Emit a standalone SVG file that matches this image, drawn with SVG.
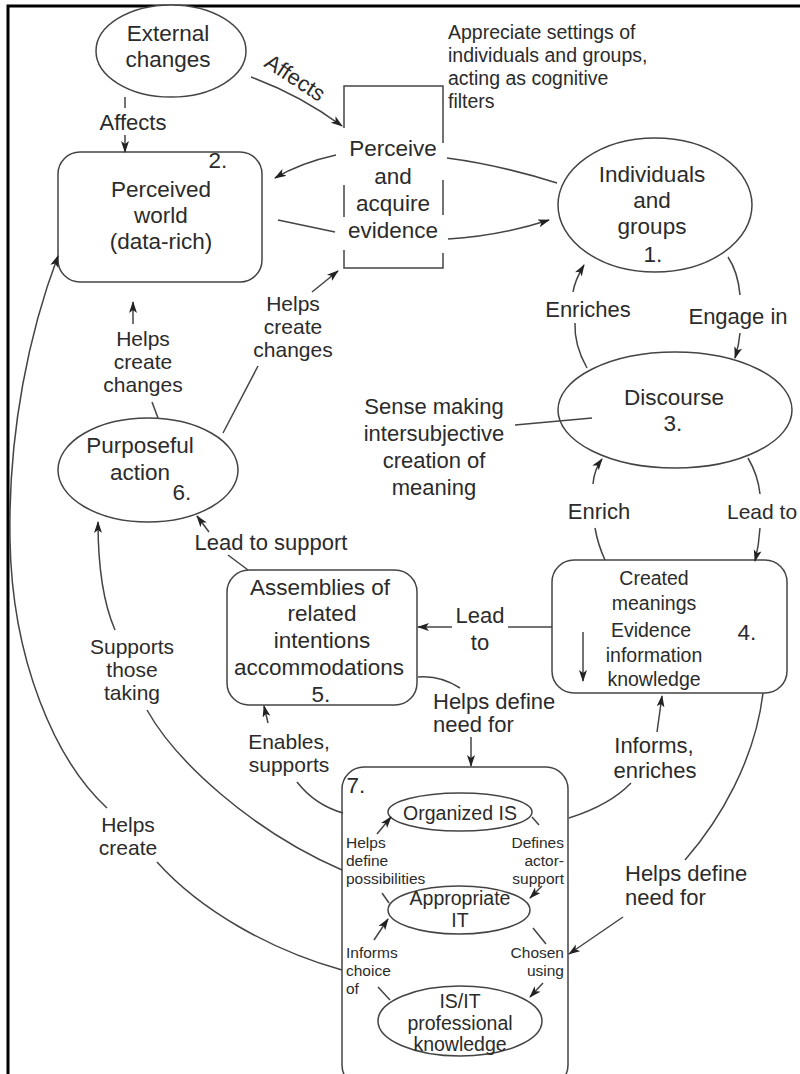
<svg xmlns="http://www.w3.org/2000/svg" width="800" height="1074" viewBox="0 0 800 1074">
<defs>
<marker id="ah" markerWidth="12" markerHeight="10" refX="11" refY="4" orient="auto" markerUnits="userSpaceOnUse">
<path d="M0,0 L12,4 L0,8 L3,4 Z" fill="#222"/>
</marker>
<style>
.t{font-family:"Liberation Sans",Arial,sans-serif;font-size:22.5px;fill:#2b2b2b;text-anchor:middle}
.l{font-family:"Liberation Sans",Arial,sans-serif;font-size:22px;fill:#2b2b2b;text-anchor:middle}
.m{font-family:"Liberation Sans",Arial,sans-serif;font-size:21px;fill:#2b2b2b;text-anchor:middle}
.s{font-family:"Liberation Sans",Arial,sans-serif;font-size:19.5px;fill:#2b2b2b;text-anchor:middle}
.x{font-family:"Liberation Sans",Arial,sans-serif;font-size:15.5px;fill:#2b2b2b}
.n{fill:#fff;stroke:#444;stroke-width:1.5}
.c{fill:none;stroke:#444;stroke-width:1.5}
.a{fill:none;stroke:#444;stroke-width:1.5;marker-end:url(#ah)}
</style>
</defs>
<rect width="800" height="1074" fill="#fff"/>
<path d="M8,1074 V6 H800" fill="none" stroke="#000" stroke-width="3"/>

<g id="external-changes">
<ellipse class="n" cx="171" cy="51" rx="75" ry="46"/>
<text class="t" x="168" y="41">External</text>
<text class="t" x="168" y="67">changes</text>
</g>

<g id="perceived-world">
<rect class="n" x="58" y="152" width="204" height="130" rx="22"/>
<text class="t" x="218" y="168">2.</text>
<text class="t" x="161" y="197">Perceived</text>
<text class="t" x="161" y="223">world</text>
<text class="t" x="161" y="249">(data-rich)</text>
</g>

<g id="perceive-acquire">
<path class="c" d="M344,128 V86 H443 V143 M443,180 V215 M443,253 V268 H344 V250 M344,217 V185"/>
<text class="t" x="393" y="156">Perceive</text>
<text class="t" x="393" y="184">and</text>
<text class="t" x="393" y="211">acquire</text>
<text class="t" x="393" y="238">evidence</text>
</g>

<g id="individuals-groups">
<ellipse class="n" cx="655" cy="205" rx="97" ry="67"/>
<text class="t" x="652" y="182">Individuals</text>
<text class="t" x="652" y="208">and</text>
<text class="t" x="652" y="234">groups</text>
<text class="t" x="653" y="262">1.</text>
</g>

<g id="discourse">
<ellipse class="n" cx="675" cy="410" rx="117" ry="58"/>
<text class="t" x="674" y="405">Discourse</text>
<text class="t" x="673" y="431">3.</text>
</g>

<g id="purposeful-action">
<ellipse class="n" cx="148" cy="470" rx="90" ry="52"/>
<text class="t" x="140" y="453">Purposeful</text>
<text class="t" x="140" y="480">action</text>
<text class="t" x="182" y="500">6.</text>
</g>

<g id="created-meanings">
<rect class="n" x="552" y="560" width="235" height="133" rx="22"/>
<text class="s" x="654" y="585">Created</text>
<text class="s" x="654" y="610">meanings</text>
<text class="s" x="651" y="637">Evidence</text>
<text class="s" x="654" y="662">information</text>
<text class="s" x="654" y="686">knowledge</text>
<text class="t" x="747" y="640">4.</text>
</g>

<g id="assemblies">
<rect class="n" x="227" y="570" width="190" height="135" rx="22"/>
<text class="t" x="320" y="595">Assemblies of</text>
<text class="t" x="322" y="621">related</text>
<text class="t" x="322" y="648">intentions</text>
<text class="t" x="319" y="675">accommodations</text>
<text class="t" x="321" y="702">5.</text>
</g>

<g id="is-it-box">
<rect class="n" x="342" y="767" width="226" height="320" rx="22"/>
<text class="t" x="356" y="793">7.</text>
</g>

<g id="organized-is">
<ellipse class="n" cx="460" cy="812" rx="72" ry="19"/>
<text class="s" x="460" y="820">Organized IS</text>
</g>

<g id="appropriate-it">
<ellipse class="n" cx="459" cy="910" rx="71" ry="24"/>
<text class="s" x="460" y="905">Appropriate</text>
<text class="s" x="460" y="927">IT</text>
</g>

<g id="is-it-knowledge">
<ellipse class="n" cx="460" cy="1021" rx="82" ry="35"/>
<text class="s" x="460" y="1008">IS/IT</text>
<text class="s" x="460" y="1030">professional</text>
<text class="s" x="460" y="1051">knowledge</text>
</g>

<g id="connectors">
<path class="c" d="M125,97 L125,108"/>
<path class="a" d="M125,135 L125,152"/>
<path class="a" d="M251,77 Q300,95 342,126"/>
<path class="c" d="M557,183 Q500,165 447,158"/>
<path class="a" d="M336,155 Q300,163 275,178"/>
<path class="c" d="M278,220 L335,232"/>
<path class="a" d="M448,239 Q500,236 549,220"/>
<path class="c" d="M587,368 Q574,345 575,323"/>
<path class="a" d="M573,292 Q575,280 584,265"/>
<path class="c" d="M728,257 Q738,272 740,295"/>
<path class="a" d="M740,333 Q739,345 735,358"/>
<path class="c" d="M515,425 L592,418"/>
<path class="c" d="M605,560 Q598,545 595,528"/>
<path class="a" d="M593,484 Q594,470 602,459"/>
<path class="c" d="M748,458 Q758,475 760,494"/>
<path class="a" d="M760,528 Q759,545 755,561"/>
<path class="c" d="M552,627 L508,627"/>
<path class="a" d="M452,627 L418,627"/>
<path class="c" d="M248,570 L228,555"/>
<path class="a" d="M209,532 L197,516"/>
<path class="c" d="M158,418 L152,402"/>
<path class="a" d="M133,324 L133,302"/>
<path class="c" d="M223,433 L258,366"/>
<path class="a" d="M312,292 L338,271"/>
<path class="c" d="M342,870 C250,830 175,760 147,710"/>
<path class="a" d="M115,630 C102,600 98,560 98,522"/>
<path class="c" d="M342,970 C270,950 200,910 157,862"/>
<path class="a" d="M107,808 C55,760 12,660 10,540 C8,430 30,330 58,256"/>
<path class="c" d="M343,813 Q315,805 297,782"/>
<path class="a" d="M268,723 L264,706"/>
<path class="c" d="M418,677 Q440,675 460,688"/>
<path class="a" d="M471,737 L471,766"/>
<path class="c" d="M569,818 Q610,805 631,783"/>
<path class="a" d="M657,732 L662,696"/>
<path class="c" d="M763,693 C755,760 720,820 685,860"/>
<path class="a" d="M623,917 L569,954"/>
<path class="a" d="M583,632 L583,681"/>
<path class="c" d="M382,893 L389,903"/>
<path class="a" d="M377,834 L391,817"/>
<path class="c" d="M532,817 L539,825"/>
<path class="a" d="M542,886 L530,898"/>
<path class="c" d="M378,987 L390,1000"/>
<path class="a" d="M374,940 L388,919"/>
<path class="c" d="M533,928 L546,944"/>
<path class="a" d="M543,983 L530,997"/>
</g>

<g id="connector-labels">
<text class="l" x="133" y="130">Affects</text>
<text class="l" transform="translate(291,84) rotate(33)">Affects</text>
<text class="l" x="588" y="317">Enriches</text>
<text class="l" x="738" y="324">Engage in</text>
<text class="l" x="434" y="414">Sense making</text>
<text class="l" x="434" y="441">intersubjective</text>
<text class="l" x="434" y="468">creation of</text>
<text class="l" x="434" y="495">meaning</text>
<text class="l" x="599" y="519">Enrich</text>
<text class="m" x="727" y="519" style="text-anchor:start">Lead to</text>
<text class="l" x="480" y="623">Lead</text>
<text class="l" x="480" y="650">to</text>
<text class="l" x="271" y="550">Lead to support</text>
<text class="m" x="143" y="346">Helps</text>
<text class="m" x="143" y="369">create</text>
<text class="m" x="143" y="392">changes</text>
<text class="m" x="293" y="311">Helps</text>
<text class="m" x="293" y="334">create</text>
<text class="m" x="293" y="357">changes</text>
<text class="m" x="132" y="654">Supports</text>
<text class="m" x="132" y="677">those</text>
<text class="m" x="132" y="700">taking</text>
<text class="m" x="289" y="749">Enables,</text>
<text class="m" x="289" y="772">supports</text>
<text class="m" x="128" y="832">Helps</text>
<text class="m" x="128" y="855">create</text>
<text class="l" x="433" y="709" style="text-anchor:start">Helps define</text>
<text class="l" x="433" y="732" style="text-anchor:start">need for</text>
<text class="l" x="654" y="753">Informs,</text>
<text class="l" x="655" y="778">enriches</text>
<text class="l" x="625" y="881" style="text-anchor:start">Helps define</text>
<text class="l" x="625" y="905" style="text-anchor:start">need for</text>
<text class="x" x="448" y="39" style="font-size:19.5px">Appreciate settings of</text>
<text class="x" x="448" y="62" style="font-size:19.5px">individuals and groups,</text>
<text class="x" x="448" y="85" style="font-size:19.5px">acting as cognitive</text>
<text class="x" x="448" y="108" style="font-size:19.5px">filters</text>
<text class="x" x="346" y="848">Helps</text>
<text class="x" x="346" y="866">define</text>
<text class="x" x="346" y="884">possibilities</text>
<text class="x" x="564" y="848" text-anchor="end">Defines</text>
<text class="x" x="564" y="866" text-anchor="end">actor-</text>
<text class="x" x="564" y="884" text-anchor="end">support</text>
<text class="x" x="346" y="958">Informs</text>
<text class="x" x="346" y="976">choice</text>
<text class="x" x="346" y="994">of</text>
<text class="x" x="564" y="958" text-anchor="end">Chosen</text>
<text class="x" x="564" y="976" text-anchor="end">using</text>
</g>
</svg>
